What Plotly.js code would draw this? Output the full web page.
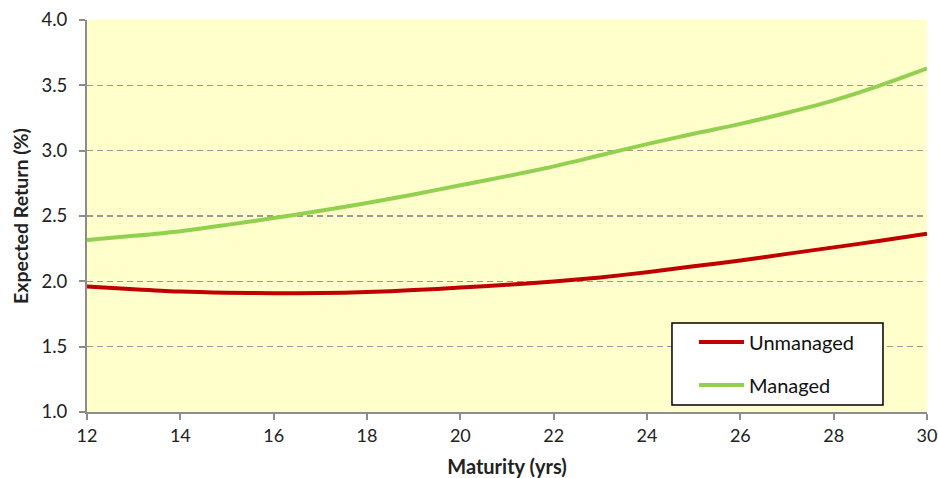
<!DOCTYPE html>
<html>
<head>
<meta charset="utf-8">
<script src="https://cdn.plot.ly/plotly-3.0.1.min.js"></script>
<style>
  html, body { margin: 0; padding: 0; background: #ffffff; }
  #chart { width: 938px; height: 478px; }
</style>
</head>
<body>
<div id="chart"></div>
<script>
// Maturity in years
const maturity = [12, 13, 14, 15, 16, 17, 18, 19, 20, 21, 22, 23, 24, 25, 26, 27, 28, 29, 30];
// Expected return (%) without management
const unmanaged = [1.96, 1.94, 1.922, 1.913, 1.909, 1.91, 1.918, 1.933, 1.952, 1.973, 1.998, 2.03, 2.07, 2.115, 2.16, 2.21, 2.26, 2.31, 2.365];
// Expected return (%) with management
const managed = [2.316, 2.348, 2.384, 2.432, 2.484, 2.54, 2.60, 2.665, 2.735, 2.805, 2.88, 2.965, 3.05, 3.13, 3.205, 3.29, 3.385, 3.50, 3.63];

const seriesNames = ['Unmanaged', 'Managed'];
const yTicks = [1.0, 1.5, 2.0, 2.5, 3.0, 3.5, 4.0];
const xTicks = [12, 14, 16, 18, 20, 22, 24, 26, 28, 30];

const font = 'Lato, "Open Sans", sans-serif';

const traces = [
  {
    x: maturity, y: unmanaged, name: seriesNames[0], legendgroup: 'a',
    type: 'scatter', mode: 'lines',
    line: { color: '#C00000', width: 4, shape: 'spline', smoothing: 0.8 }
  },
  {
    x: maturity, y: managed, name: seriesNames[1], legendgroup: 'b',
    type: 'scatter', mode: 'lines',
    line: { color: '#92D050', width: 4, shape: 'spline', smoothing: 0.8 }
  }
];

const layout = {
  width: 938, height: 478,
  margin: { l: 87, r: 11, t: 20, b: 66 },
  paper_bgcolor: '#ffffff',
  plot_bgcolor: '#FFFFCC',
  font: { family: font, size: 18, color: '#222' },
  showlegend: true,
  legend: {
    x: 0.7226, y: 0.228, xanchor: 'left', yanchor: 'top',
    bgcolor: 'rgba(0,0,0,0)', borderwidth: 0,
    font: { family: font, size: 20, color: '#111' },
    tracegroupgap: 14,
    itemwidth: 45
  },
  // white legend frame with a thin black border
  shapes: [{
    type: 'rect', xref: 'paper', yref: 'paper', layer: 'above',
    x0: 0.6964, x1: 0.9476, y0: 0.018, y1: 0.227,
    fillcolor: '#ffffff', line: { color: '#000000', width: 1.5 }
  }],
  xaxis: {
    range: [12, 30], tickvals: xTicks, ticktext: xTicks.map(String),
    showgrid: false, zeroline: false,
    showline: true, linecolor: '#8c8c8c', linewidth: 2,
    ticks: 'outside', ticklen: 6, tickcolor: '#8c8c8c', tickwidth: 2,
    tickfont: { family: font, size: 18, color: '#222' },
    title: { text: '<b>Maturity (yrs)</b>', font: { family: font, size: 20, color: '#222' }, standoff: 24 }
  },
  yaxis: {
    range: [1.0, 4.0], tickvals: yTicks, ticktext: yTicks.map(v => v.toFixed(1)),
    showgrid: true, gridcolor: '#999999', gridwidth: 1.5, griddash: '6px,4px',
    zeroline: false,
    showline: true, linecolor: '#8c8c8c', linewidth: 2,
    ticks: 'outside', ticklen: 6, tickcolor: '#8c8c8c', tickwidth: 2,
    ticklabelstandoff: 8,
    tickfont: { family: font, size: 18.5, color: '#222' },
    title: { text: '<b>Expected Return (%)</b>', font: { family: font, size: 19.5, color: '#222' }, standoff: 8 }
  }
};

Plotly.newPlot('chart', traces, layout, { displayModeBar: false, staticPlot: true });
</script>
</body>
</html>
